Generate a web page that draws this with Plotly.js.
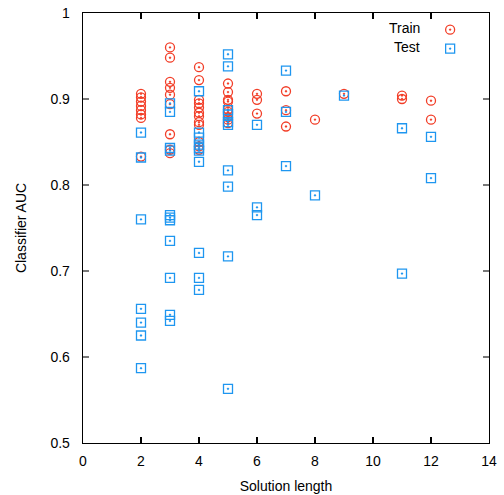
<!DOCTYPE html>
<html>
<head>
<meta charset="utf-8">
<script src="https://cdn.plot.ly/plotly-3.0.1.min.js"></script>
<style>
html,body{margin:0;padding:0;background:#fff;}
#chart{width:504px;height:495px;}
</style>
</head>
<body>
<div id="chart"></div>
<script>
// Data
var seriesNames = ["Train", "Test"];

var trainLength = [
  2,2,2,2,2,2,2,2,
  3,3,3,3,3,3,3,3,3,
  4,4,4,4,4,4,4,4,4,4,4,4,
  5,5,5,5,5,5,5,5,5,
  6,6,6,
  7,7,7,
  8,
  9,
  11,11,
  12,12
];
var trainAUC = [
  0.906,0.902,0.897,0.892,0.887,0.882,0.878,0.833,
  0.960,0.948,0.920,0.913,0.905,0.894,0.859,0.841,0.837,
  0.937,0.922,0.899,0.895,0.890,0.884,0.880,0.873,0.870,0.850,0.845,0.841,
  0.918,0.908,0.899,0.897,0.888,0.885,0.879,0.876,0.872,
  0.906,0.899,0.883,
  0.909,0.887,0.868,
  0.876,
  0.906,
  0.904,0.900,
  0.898,0.876
];

var testLength = [
  2,2,2,2,2,2,2,
  3,3,3,3,3,3,3,3,3,3,3,
  4,4,4,4,4,4,4,4,4,4,
  5,5,5,5,5,5,5,5,5,5,
  6,6,6,
  7,7,7,
  8,
  9,
  11,11,
  12,12
];
var testAUC = [
  0.861,0.832,0.760,0.656,0.640,0.625,0.587,
  0.895,0.885,0.843,0.840,0.765,0.762,0.759,0.735,0.692,0.649,0.642,
  0.909,0.861,0.855,0.847,0.843,0.840,0.827,0.721,0.692,0.678,
  0.952,0.938,0.887,0.882,0.873,0.870,0.817,0.798,0.717,0.563,
  0.870,0.774,0.765,
  0.933,0.885,0.822,
  0.788,
  0.904,
  0.866,0.697,
  0.856,0.808
];

var xTicks = [0,2,4,6,8,10,12,14];
var xTickLabels = ["0","2","4","6","8","10","12","14"];
var yTicks = [0.5,0.6,0.7,0.8,0.9,1];
var yTickLabels = ["0.5","0.6","0.7","0.8","0.9","1"];

var trainColor = "rgb(242,62,40)";
var testColor = "rgb(30,150,240)";
var FONT = "Liberation Sans, Arial, Helvetica, sans-serif";

var traces = [
  {
    type: "scatter", mode: "markers",
    x: trainLength, y: trainAUC, name: " ",
    marker: {symbol: "circle-open-dot", size: 9, color: trainColor, line: {width: 1.3, color: trainColor}},
    showlegend: true, hoverinfo: "x+y"
  },
  {
    type: "scatter", mode: "markers",
    x: testLength, y: testAUC, name: "  ",
    marker: {symbol: "square-open-dot", size: 9, color: testColor, line: {width: 1.3, color: testColor}},
    showlegend: true, hoverinfo: "x+y"
  }
];

var layout = {
  width: 504, height: 495,
  margin: {l: 83, r: 15, t: 13, b: 52},
  paper_bgcolor: "#fff", plot_bgcolor: "#fff",
  font: {family: FONT, size: 14, color: "#000"},
  showlegend: true,
  legend: {
    x: 0.855, xanchor: "left", y: 0.995, yanchor: "top",
    bgcolor: "rgba(0,0,0,0)", borderwidth: 0,
    font: {family: FONT, size: 11},
    tracegroupgap: 0, itemwidth: 30
  },
  xaxis: {
    range: [0, 14], tickvals: xTicks, ticktext: xTickLabels,
    ticks: "inside", ticklen: 6, tickwidth: 1.2, tickcolor: "#000",
    showline: true, linecolor: "#000", linewidth: 1.3, mirror: "ticks",
    showgrid: false, zeroline: false,
    ticklabelstandoff: 5,
    tickfont: {family: FONT, size: 14},
    title: {text: "Solution length", font: {family: FONT, size: 14}, standoff: 13}
  },
  yaxis: {
    range: [0.5, 1], tickvals: yTicks, ticktext: yTickLabels,
    ticks: "inside", ticklen: 6, tickwidth: 1.5, tickcolor: "rgb(120,120,120)",
    showline: true, linecolor: "#000", linewidth: 1.3, mirror: "ticks",
    showgrid: false, zeroline: false,
    ticklabelstandoff: 9,
    tickfont: {family: FONT, size: 14},
    title: {text: "Classifier AUC", font: {family: FONT, size: 14}, standoff: 20}
  },
  annotations: [
    {xref: "paper", yref: "paper", x: 0.835, y: 0.964, xanchor: "right", yanchor: "middle",
     text: seriesNames[0], showarrow: false, font: {family: FONT, size: 14, color: "#000"}},
    {xref: "paper", yref: "paper", x: 0.835, y: 0.922, xanchor: "right", yanchor: "middle",
     text: seriesNames[1], showarrow: false, font: {family: FONT, size: 14, color: "#000"}}
  ]
};

Plotly.newPlot("chart", traces, layout, {displayModeBar: false, staticPlot: true});
</script>
</body>
</html>
